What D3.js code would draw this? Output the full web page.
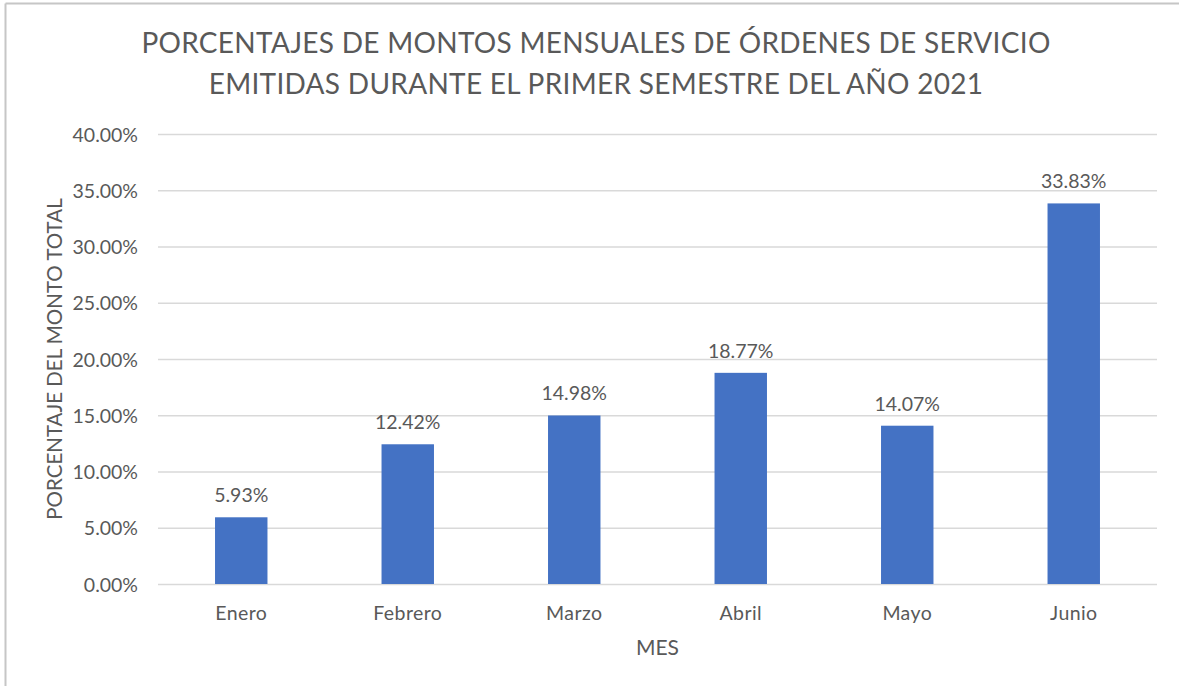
<!DOCTYPE html>
<html>
<head>
<meta charset="utf-8">
<script src="https://cdn.jsdelivr.net/npm/d3@7"></script>
<style>
  html, body { margin: 0; padding: 0; background: #fff; }
  svg { display: block; }
  text { font-family: Lato, "Open Sans", sans-serif; fill: #595959; }
</style>
</head>
<body>
<svg id="chart" width="1179" height="686"></svg>
<script>
// Monthly share of service-order amounts, first half of 2021
const months = ["Enero", "Febrero", "Marzo", "Abril", "Mayo", "Junio"];
const shares = [5.93, 12.42, 14.98, 18.77, 14.07, 33.83];
const yTicks = [0, 5, 10, 15, 20, 25, 30, 35, 40];
const titleLines = [
  "PORCENTAJES DE MONTOS MENSUALES DE ÓRDENES DE SERVICIO",
  "EMITIDAS DURANTE EL PRIMER SEMESTRE DEL AÑO 2021"
];
const xTitle = "MES";
const yTitle = "PORCENTAJE DEL MONTO TOTAL";

const svg = d3.select("#chart");
const W = 1179, H = 686;
const plot = { left: 158, right: 1157, top: 134, bottom: 584 };
const FONT = "Lato, 'Open Sans', sans-serif";

// Outer frame (top and left edges visible)
svg.append("line").attr("x1", 5.5).attr("x2", W).attr("y1", 3.5).attr("y2", 3.5)
  .attr("stroke", "#c6c6c6").attr("stroke-width", 2);
svg.append("line").attr("x1", 5.5).attr("x2", 5.5).attr("y1", 3.5).attr("y2", H)
  .attr("stroke", "#c6c6c6").attr("stroke-width", 2);

const x = d3.scaleBand().domain(months).range([plot.left, plot.right]).paddingInner(0.685).paddingOuter(0.3425);
const y = d3.scaleLinear().domain([0, 40]).range([plot.bottom, plot.top]);

// Gridlines
svg.append("g")
  .attr("transform", `translate(${plot.left},0)`)
  .call(d3.axisLeft(y).tickValues(yTicks).tickSize(-(plot.right - plot.left)).tickFormat(""))
  .call(g => g.select(".domain").remove())
  .call(g => g.selectAll("line").attr("stroke", "#d9d9d9").attr("stroke-width", 1.4));

// Y tick labels
svg.append("g")
  .attr("transform", `translate(${plot.left - 20},0)`)
  .call(d3.axisLeft(y).tickValues(yTicks).tickSize(0).tickFormat(d => d.toFixed(2) + "%"))
  .call(g => g.select(".domain").remove())
  .call(g => g.selectAll("text").attr("x", 0).attr("dy", "0.36em")
    .style("font-size", "19.5px").style("fill", "#595959").style("font-family", FONT));

// Bars
svg.append("g").selectAll("rect")
  .data(months)
  .join("rect")
  .attr("x", d => x(d))
  .attr("width", x.bandwidth())
  .attr("y", (d, i) => y(shares[i]))
  .attr("height", (d, i) => y(0) - y(shares[i]))
  .attr("fill", "#4472c4");

// Value labels
svg.append("g").selectAll("text")
  .data(months)
  .join("text")
  .attr("x", d => x(d) + x.bandwidth() / 2)
  .attr("y", (d, i) => y(shares[i]) - 15)
  .attr("text-anchor", "middle")
  .style("font-size", "19.5px")
  .text((d, i) => shares[i].toFixed(2) + "%");

// Category labels
svg.append("g")
  .attr("transform", `translate(0,${plot.bottom})`)
  .call(d3.axisBottom(x).tickSize(0).tickPadding(0))
  .call(g => g.select(".domain").remove())
  .call(g => g.selectAll("text").attr("y", 36).attr("dy", 0)
    .style("font-size", "19.5px").style("letter-spacing", "0.4px")
    .style("fill", "#595959").style("font-family", FONT));

// Axis titles
svg.append("text")
  .attr("x", (plot.left + plot.right) / 2)
  .attr("y", 655)
  .attr("text-anchor", "middle")
  .style("font-size", "21px")
  .text(xTitle);

svg.append("text")
  .attr("transform", `translate(62,${(plot.top + plot.bottom) / 2}) rotate(-90)`)
  .attr("text-anchor", "middle")
  .style("font-size", "20.5px")
  .text(yTitle);

// Chart title
svg.append("g").selectAll("text")
  .data(titleLines)
  .join("text")
  .attr("x", 596)
  .attr("y", (d, i) => 53 + i * 41)
  .attr("text-anchor", "middle")
  .style("font-size", "28px")
  .style("letter-spacing", "0.3px")
  .text(d => d);
</script>
</body>
</html>
